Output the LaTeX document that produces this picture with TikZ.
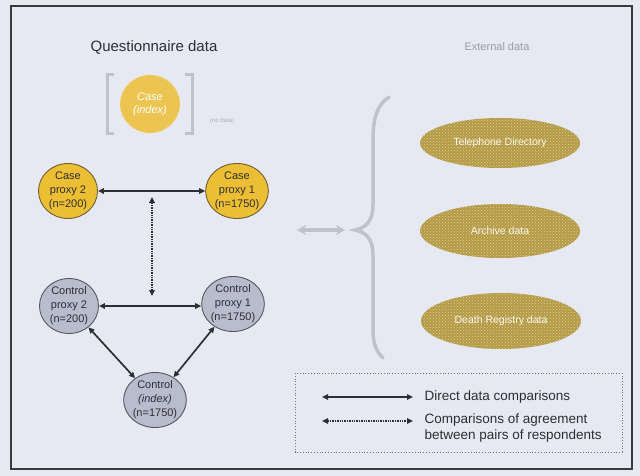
\documentclass[tikz,border=0pt]{standalone}
\usepackage{fontspec}
\setmainfont{Liberation Sans}
\usetikzlibrary{shapes.geometric,arrows.meta,patterns}
\definecolor{pagebg}{HTML}{E6E8F2}
\definecolor{framecol}{HTML}{3A3A3E}
\definecolor{casefill}{HTML}{ECBE34}
\definecolor{caseedge}{HTML}{6E5E34}
\definecolor{ctrlfill}{HTML}{B8BCCD}
\definecolor{ctrledge}{HTML}{55575F}
\definecolor{inktext}{HTML}{2E2E34}
\definecolor{fadegrey}{HTML}{C0C2CB}
\definecolor{extfill}{HTML}{B49A48}
\definecolor{extdots}{HTML}{E2D28A}
\tikzset{
  casenode/.style={ellipse, draw=caseedge, line width=0.9pt, fill=casefill,
    minimum width=59pt, minimum height=55pt, inner sep=0pt, align=center,
    text=inktext, font=\fontsize{11}{14}\selectfont},
  ctrlnode/.style={casenode, draw=ctrledge, fill=ctrlfill},
  extnode/.style={ellipse, fill=extfill, minimum width=160pt, minimum height=50pt,
    inner sep=0pt, text=white!92!extfill, font=\fontsize{10.5}{12}\selectfont,
    postaction={pattern=crosshatch dots, pattern color=extdots}},
  direct/.style={draw=inktext, line width=1.7pt, {Triangle[length=6pt,width=5.5pt]}-{Triangle[length=6pt,width=5.5pt]}},
  agree/.style={draw=inktext, line width=1.8pt, dash pattern=on 1.3pt off 1.1pt, {Triangle[length=6pt,width=5.5pt]}-{Triangle[length=6pt,width=5.5pt]}},
  fadebracket/.style={draw=fadegrey, line width=3pt},
  heading/.style={font=\fontsize{15}{17}\selectfont},
  legendtext/.style={font=\fontsize{13.5}{16}\selectfont, text=inktext, anchor=west, align=left}
}
\begin{document}
\begin{tikzpicture}[x=1pt,y=-1pt]
  % page and frame
  \fill[pagebg] (0,0) rectangle (640,476);
  \useasboundingbox (0,0) rectangle (640,476);
  \draw[framecol, line width=2pt] (11,6) rectangle (632,469);

  % headings
  \node[heading, text=inktext] (qhead) at (154,47) {Questionnaire data};
  \node[text=fadegrey!80!black, font=\fontsize{11}{13}\selectfont] (ehead) at (497,47) {External data};

  % index case: bracketed, no data
  \draw[fadebracket] (114,75) -- (107,75) -- (107,134) -- (114,134);
  \draw[fadebracket] (185,75) -- (192,75) -- (192,134) -- (185,134);
  \node[ellipse, fill=casefill!85!pagebg, draw=white!60!casefill, dotted, line width=0.8pt,
        minimum width=60pt, minimum height=58pt, inner sep=0pt, align=center,
        text=white, font=\fontsize{11}{13}\selectfont\itshape] (cidx) at (150,104) {Case\\(index)};
  \node[text=fadegrey!90!black, font=\fontsize{6}{7}\selectfont] (nodata) at (222,121) {(no data)};

  % questionnaire respondents
  \node[casenode] (cp2) at (68,191) {Case\\proxy 2\\(n=200)};
  \node[casenode] (cp1) at (237,191) {Case\\proxy 1\\(n=1750)};
  \node[ctrlnode] (kp2) at (69,306) {Control\\proxy 2\\(n=200)};
  \node[ctrlnode] (kp1) at (233,304) {Control\\proxy 1\\(n=1750)};
  \node[ctrlnode] (kidx) at (155,400) {Control\\\textit{(index)}\\(n=1750)};

  % comparisons
  \draw[direct] (cp2) -- (cp1);
  \draw[direct] (kp2.east) -- (kp2.east -| kp1.west);
  \draw[direct] (kp2) -- (kidx);
  \draw[direct] (kp1) -- (kidx);
  \coordinate (agtop) at (152,197);
  \coordinate (agbot) at (152,296);
  \draw[agree] (agtop) -- (agbot);

  % link to external data
  \coordinate (linkl) at (297,230);
  \coordinate (linkr) at (345,230);
  \draw[draw=fadegrey, line width=4pt, {Stealth[length=9pt,width=10pt]}-{Stealth[length=9pt,width=10pt]}] (linkl) -- (linkr);

  % brace gathering the external sources
  \draw[fadegrey, line width=3.5pt, line cap=round]
    (389,97) .. controls (377,105) and (373,118) .. (373,140)
    -- (373,205) .. controls (373,222) and (365,228) .. (355,230)
    .. controls (365,232) and (373,238) .. (373,255)
    -- (373,330) .. controls (373,345) and (377,352) .. (383,358);

  % external data sources
  \node[extnode] (ext1) at (500,143) {Telephone Directory};
  \node[extnode, minimum height=54pt] (ext2) at (500,231) {Archive data};
  \node[extnode, minimum height=56pt] (ext3) at (501,321) {Death Registry data};

  % legend
  \draw[fadegrey!60!black, dotted, line width=0.8pt] (295,373) rectangle (622,452);
  \coordinate (lg1a) at (322,397);
  \coordinate (lg1b) at (413,397);
  \coordinate (lg2a) at (322,421);
  \coordinate (lg2b) at (413,421);
  \draw[direct] (lg1a) -- (lg1b);
  \draw[agree] (lg2a) -- (lg2b);
  \node[legendtext] (lt1) at (421,397) {Direct data comparisons};
  \node[legendtext] (lt2) at (421,428) {Comparisons of agreement\\between pairs of respondents};
\end{tikzpicture}
\end{document}
